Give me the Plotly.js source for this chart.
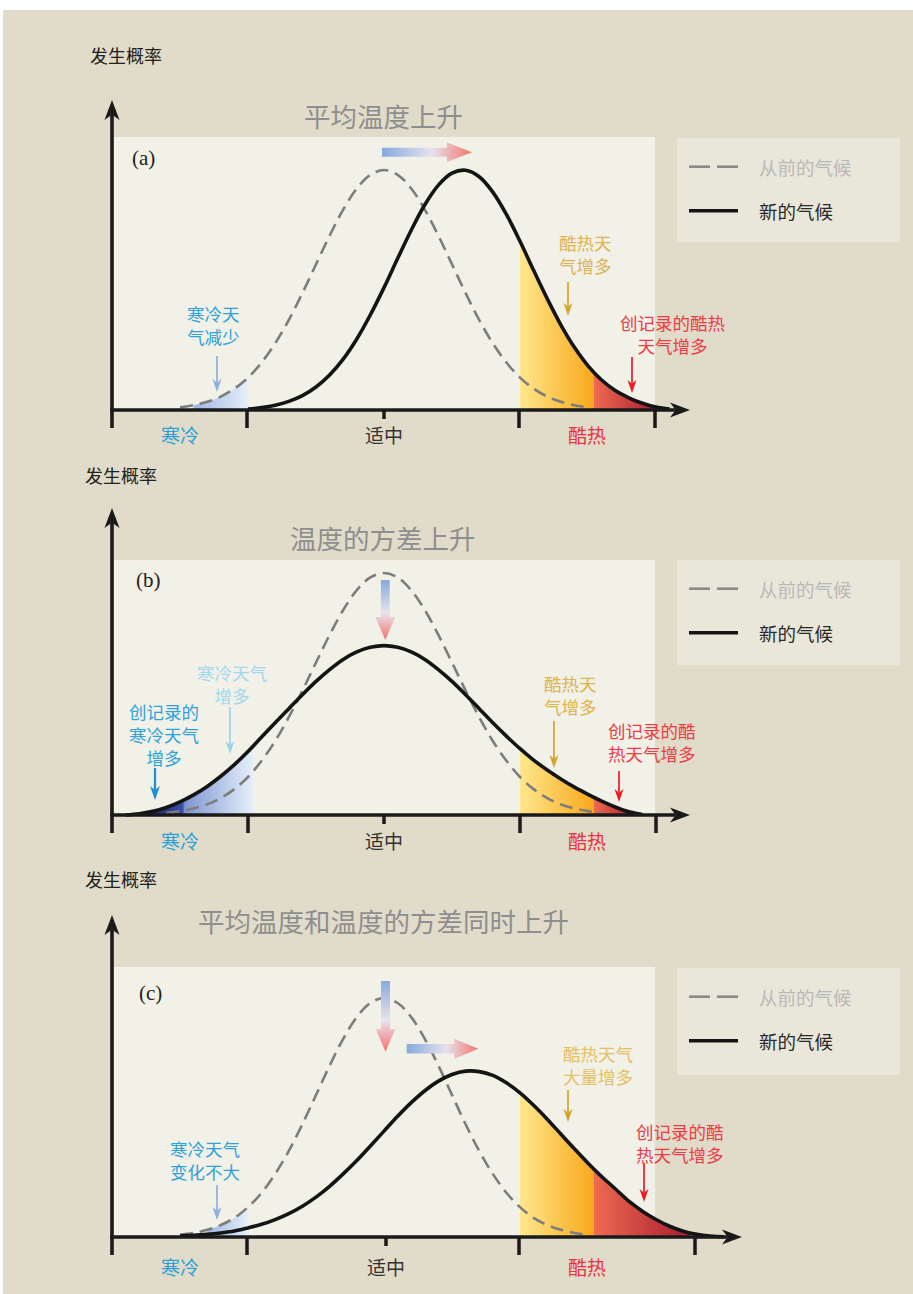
<!DOCTYPE html>
<html>
<head>
<meta charset="utf-8">
<script src="https://cdn.plot.ly/plotly-3.0.1.min.js"></script>
<style>html,body{margin:0;padding:0;background:#fff;}#chart{width:913px;height:1294px;}</style>
</head>
<body>
<div id="chart"></div>
<script>
// ---------------- DATA ----------------
// temperature axis (0 = 适中)
const tempAxis = [-2.0,-1.9,-1.8,-1.7,-1.6,-1.5,-1.4,-1.3,-1.2,-1.1,-1.0,-0.9,-0.8,-0.7,-0.6,-0.5,-0.4,-0.3,-0.2,-0.1,0.0,
  0.1,0.2,0.3,0.4,0.5,0.6,0.7,0.8,0.9,1.0,1.1,1.2,1.3,1.4,1.5,1.6,1.7,1.8,1.9,2.0,2.1,2.2,2.3,2.4,2.5,2.6];

// (a) 平均温度上升
const oldClimateA = [null,null,null,null,null,
  0.011,0.020,0.034,0.056,0.089,0.135,0.198,0.278,0.375,0.487,0.607,0.726,0.835,0.923,0.980,1.000,
  0.980,0.923,0.835,0.726,0.607,0.487,0.375,0.278,0.198,0.135,0.089,0.056,0.034,0.020,0.011,
  null,null,null,null,null,null,null,null,null,null,null];
const newClimateA = [null,null,null,null,null,null,null,null,null,null,
  0.004,0.010,0.020,0.036,0.060,0.096,0.146,0.212,0.296,0.397,0.510,0.631,0.749,0.855,0.937,0.987,0.999,
  0.972,0.908,0.815,0.703,0.582,0.464,0.355,0.261,0.184,0.125,0.081,0.051,0.028,0.012,0.004,
  null,null,null,null,null];

// (b) 温度的方差上升
const oldClimateB = [null,null,null,null,
  0.009,0.016,0.027,0.044,0.070,0.107,0.157,0.224,0.306,0.404,0.514,0.630,0.744,0.847,0.929,0.982,1.000,
  0.982,0.929,0.847,0.744,0.630,0.514,0.404,0.306,0.224,0.157,0.107,0.070,0.044,0.027,0.016,0.009,
  null,null,null,null,null,null,null,null,null,null];
const newClimateB = [null,
  0.000,0.005,0.015,0.031,0.054,0.083,0.118,0.160,0.208,0.262,0.322,0.381,0.439,0.497,0.552,0.601,0.643,0.674,0.693,0.700,
  0.693,0.674,0.643,0.601,0.552,0.497,0.439,0.381,0.326,0.274,0.227,0.186,0.149,0.115,0.085,0.057,0.033,0.013,0.002,
  null,null,null,null,null,null,null];

// (c) 平均温度和温度的方差同时上升
const oldClimateC = [null,null,null,null,null,
  0.009,0.017,0.030,0.050,0.080,0.125,0.185,0.264,0.360,0.472,0.594,0.717,0.829,0.920,0.979,1.000,
  0.979,0.920,0.829,0.717,0.594,0.472,0.360,0.264,0.185,0.125,0.080,0.050,0.030,0.017,0.009,
  null,null,null,null,null,null,null,null,null,null,null];
const newClimateC = [null,null,null,null,null,
  0.005,0.007,0.011,0.017,0.025,0.038,0.053,0.073,0.098,0.129,0.167,0.212,0.264,0.320,0.381,0.443,
  0.505,0.562,0.612,0.652,0.680,0.694,0.692,0.676,0.645,0.603,0.551,0.493,0.431,0.369,0.309,0.253,0.202,0.150,0.108,0.073,
  0.045,0.024,0.011,0.004,0.001,null];

// shaded tails (temperature, probability)
const coldA_x = [-1.4,-1.3,-1.2,-1.1,-1.0];            const coldA_y = [0.020,0.034,0.056,0.089,0.135];
const hotA_x  = [1.0,1.1,1.2,1.3,1.4,1.5,1.54];         const hotA_y  = [0.703,0.582,0.464,0.355,0.261,0.184,0.158];
const recA_x  = [1.54,1.6,1.7,1.8,1.9,2.0];             const recA_y  = [0.158,0.125,0.081,0.051,0.028,0.012];
const coldB_x = [-1.8,-1.7,-1.6,-1.5,-1.4,-1.3,-1.2,-1.1,-1.0,-0.96];
const coldB_y = [0.005,0.015,0.031,0.054,0.083,0.118,0.160,0.208,0.262,0.285];
const hotB_x  = [1.0,1.1,1.2,1.3,1.4,1.5,1.54];         const hotB_y  = [0.274,0.227,0.186,0.149,0.115,0.085,0.074];
const recB_x  = [1.54,1.6,1.7,1.8,1.85];                const recB_y  = [0.074,0.057,0.033,0.013,0.006];
const coldC_x = [-1.3,-1.2,-1.1,-1.0];                  const coldC_y = [0.030,0.050,0.080,0.125];
const hotC_x  = [1.0,1.1,1.2,1.3,1.4,1.5,1.54];         const hotC_y  = [0.603,0.551,0.493,0.431,0.369,0.309,0.285];
const recC_x  = [1.54,1.6,1.7,1.8,1.9,2.0,2.1,2.2,2.25]; const recC_y  = [0.285,0.253,0.202,0.150,0.108,0.073,0.045,0.024,0.017];

// texts
const yAxisLabel = '发生概率';
const panelTitles = ['平均温度上升', '温度的方差上升', '平均温度和温度的方差同时上升'];
const panelTags = ['(a)', '(b)', '(c)'];
const categoryLabels = ['寒冷', '适中', '酷热'];
const legendLabels = ['从前的气候', '新的气候'];
const calloutsA = ['寒冷天<br>气减少', '酷热天<br>气增多', '创记录的酷热<br>天气增多'];
const calloutsB = ['寒冷天气<br>增多', '创记录的<br>寒冷天气<br>增多', '酷热天<br>气增多', '创记录的酷<br>热天气增多'];
const calloutsC = ['寒冷天气<br>变化不大', '酷热天气<br>大量增多', '创记录的酷<br>热天气增多'];

// ---------------- LAYOUT HELPERS ----------------
const W = 913, H = 1294;
const X0 = 384, XU = 136, XMIN = -2.1, XMAX = 2.7, YMIN = -0.1, YMAX = 1.4;
const CJK = '"Noto Sans CJK SC", "Noto Sans", sans-serif';
const SERIF = '"Liberation Serif", "DejaVu Serif", serif';
const px = v => v / W;
const py = v => 1 - v / H;
const tX = v => (v - X0) / XU;

const panels = [
  {ax:'', base:410, u:240, top:100, ext:428, inTop:137, legTop:138, legBot:242, tip:690, ticks:[247,519,655], mid:384,
   titleY:116, labelX:126, labelY:55, tagX:143, tagY:158, catY:435},
  {ax:'2', base:815, u:242, top:508, ext:833, inTop:560, legTop:560, legBot:665, tip:690, ticks:[248,520,656], mid:384,
   titleY:538, labelX:121, labelY:475, tagX:148, tagY:580, catY:840},
  {ax:'3', base:1237, u:239, top:915, ext:1255, inTop:967, legTop:968, legBot:1075, tip:742, ticks:[247,519,695], mid:386,
   titleY:921, labelX:121, labelY:879, tagX:150, tagY:993, catY:1266}
];
const vY = (p, v) => (p.base - v) / p.u;

const C = {
  bg:'#e0dcc9', inner:'#f2f1e7', legend:'#e9e7da', axis:'#1a1a1a', old:'#7d7d7d', title:'#8e8e8e',
  blue:'#2ea2db', lightBlue:'#a4d7f0', gold:'#deb352', gold2:'#e6bf66', red:'#ee3b47',
  arrBlueLight:'#8db1df', arrBlue:'#1a8fd4', arrLightBlue:'#9fd3ef', arrGold:'#d4a32a', arrRed:'#ec1c26'
};
const gradHot = [[0,'#fee78c'],[1,'#f8a91c']];
const gradRec = [[0,'#ef6b52'],[1,'#a71d2e']];
const gradColdPale = [[0,'#9cb7e2'],[1,'#e6effa']];
const gradColdDeep = [[0,'#17125f'],[0.38,'#3b4fa8'],[0.40,'#7f96d2'],[1,'#e6f0fb']];
const gradArrowH = [[0,'#86a9dd'],[0.55,'#e7e2ee'],[1,'#f3766f']];
const gradArrowV = [[0,'#f3726c'],[0.45,'#e8e3ee'],[1,'#86a9dd']];

const traces = [];
function axesOf(p){ return {xaxis:'x'+p.ax, yaxis:'y'+p.ax}; }
function curve(p, y, dashed){
  traces.push(Object.assign({type:'scatter', mode:'lines', x:tempAxis, y:y, hoverinfo:'skip', showlegend:false,
    line: dashed ? {color:C.old, width:2.6, dash:'13px,7px', shape:'spline'} : {color:'#141414', width:3.6, shape:'spline'}
  }, axesOf(p)));
}
function area(p, x, y, scale){
  traces.push(Object.assign({type:'scatter', mode:'lines', x:x, y:y, fill:'tozeroy', hoverinfo:'skip', showlegend:false,
    line:{width:0, shape:'spline', color:'rgba(0,0,0,0)'}, fillgradient:{type:'horizontal', colorscale:scale}}, axesOf(p)));
}
function arrowH(p, x0, x1, yc, sh, hl, hh){
  const xs=[x0,x1-hl,x1-hl,x1,x1-hl,x1-hl,x0,x0], ys=[yc-sh,yc-sh,yc-hh,yc,yc+hh,yc+sh,yc+sh,yc-sh];
  traces.push(Object.assign({type:'scatter', mode:'lines', x:xs.map(tX), y:ys.map(v=>vY(p,v)), fill:'toself', hoverinfo:'skip',
    showlegend:false, line:{width:0, color:'rgba(0,0,0,0)'}, fillgradient:{type:'horizontal', colorscale:gradArrowH}}, axesOf(p)));
}
function arrowV(p, xc, y0, y1, sw, hl, hw){
  const xs=[xc-sw,xc+sw,xc+sw,xc+hw,xc,xc-hw,xc-sw,xc-sw], ys=[y0,y0,y1-hl,y1-hl,y1,y1-hl,y1-hl,y0];
  traces.push(Object.assign({type:'scatter', mode:'lines', x:xs.map(tX), y:ys.map(v=>vY(p,v)), fill:'toself', hoverinfo:'skip',
    showlegend:false, line:{width:0, color:'rgba(0,0,0,0)'}, fillgradient:{type:'vertical', colorscale:gradArrowV}}, axesOf(p)));
}

// panel (a)
area(panels[0], coldA_x, coldA_y, gradColdPale);
area(panels[0], hotA_x, hotA_y, gradHot);
area(panels[0], recA_x, recA_y, gradRec);
curve(panels[0], oldClimateA, true);
curve(panels[0], newClimateA, false);
arrowH(panels[0], 382, 472, 152.2, 4.5, 25, 9.7);
// panel (b)
area(panels[1], coldB_x, coldB_y, gradColdDeep);
area(panels[1], hotB_x, hotB_y, gradHot);
area(panels[1], recB_x, recB_y, gradRec);
curve(panels[1], oldClimateB, true);
curve(panels[1], newClimateB, false);
arrowV(panels[1], 385.3, 580, 640, 4.4, 23, 10);
// panel (c)
area(panels[2], coldC_x, coldC_y, gradColdPale);
area(panels[2], hotC_x, hotC_y, gradHot);
area(panels[2], recC_x, recC_y, gradRec);
curve(panels[2], oldClimateC, true);
curve(panels[2], newClimateC, false);
arrowV(panels[2], 385.5, 981, 1051.7, 4.5, 22.4, 9.7);
arrowH(panels[2], 406.7, 478.3, 1048.7, 4.7, 24, 10);

// ---------------- SHAPES & ANNOTATIONS ----------------
const shapes = [];
const annotations = [];
function rect(x0,y0,x1,y1,color,layer){
  shapes.push({type:'rect', xref:'paper', yref:'paper', x0:px(x0), x1:px(x1), y0:py(y1), y1:py(y0),
    fillcolor:color, line:{width:0}, layer:layer||'below'});
}
function seg(x0,y0,x1,y1,color,width){
  shapes.push({type:'line', xref:'paper', yref:'paper', x0:px(x0), x1:px(x1), y0:py(y0), y1:py(y1),
    line:{color:color, width:width}, layer:'above'});
}
function text(x,y,t,size,color,opts){
  annotations.push(Object.assign({xref:'paper', yref:'paper', x:px(x), y:py(y), text:t, showarrow:false,
    xanchor:'center', yanchor:'middle', align:'center', font:{family:CJK, size:size, color:color}}, opts||{}));
}
// arrow drawn as a line plus a dart-shaped head (screen pixels in, paper coords out)
function pointer(xTip, yTip, xTail, yTail, color, width, L, w){
  const len = Math.hypot(xTip - xTail, yTip - yTail);
  const dx = (xTip - xTail) / len, dy = (yTip - yTail) / len;
  const nx = -dy, ny = dx;
  const bx = xTip - L * dx, by = yTip - L * dy;
  const mx = xTip - 0.72 * L * dx, my = yTip - 0.72 * L * dy;
  seg(xTail, yTail, mx, my, color, width);
  const pts = [[xTip, yTip], [bx + nx * w / 2, by + ny * w / 2], [mx, my], [bx - nx * w / 2, by - ny * w / 2]];
  const path = 'M' + pts.map(q => px(q[0]).toFixed(5) + ',' + py(q[1]).toFixed(5)).join(' L') + ' Z';
  shapes.push({type:'path', xref:'paper', yref:'paper', path:path, fillcolor:color, line:{width:0}, layer:'above'});
}

rect(3, 10, 913, 1294, C.bg);

panels.forEach((p, i) => {
  rect(112, p.inTop, 655, p.base, C.inner);
  rect(677, p.legTop, 900, p.legBot, C.legend);
  // legend samples
  const l1 = p.legTop + 28.7, l2 = p.legTop + 72.7;
  seg(689, l1, 710, l1, '#8a8a8a', 2.6);
  seg(717, l1, 738, l1, '#8a8a8a', 2.6);
  seg(689, l2, 738, l2, '#141414', 3.6);
  text(757, l1, legendLabels[0], 18.5, '#b9b9b9', {xanchor:'left'});
  text(757, l2, legendLabels[1], 18.5, '#2a2a2a', {xanchor:'left'});
  // axes with arrow heads
  pointer(112, p.top, 112, p.ext, C.axis, 3.6, 20, 15);
  pointer(p.tip, p.base, 110.2, p.base, C.axis, 3.6, 20, 15);
  p.ticks.forEach(t => seg(t, p.base, t, p.base + 18, C.axis, 3.5));
  seg(p.mid, p.base, p.mid, p.base + 9, C.axis, 3.5);
  // texts
  text(p.labelX, p.labelY, yAxisLabel, 18, '#222222');
  text(383, p.titleY, panelTitles[i], 26.5, C.title);
  text(p.tagX, p.tagY, panelTags[i], 21, '#222222', {font:{family:SERIF, size:21, color:'#222222'}});
  text(180, p.catY, categoryLabels[0], 19, '#2b9fd9');
  text(p.mid, p.catY, categoryLabels[1], 19, '#333333');
  text(587, p.catY, categoryLabels[2], 19, '#e8343f');
});

// callouts (a)
text(213, 325, calloutsA[0], 17.5, C.blue);
pointer(217, 392, 217, 356, C.arrBlueLight, 1.7, 13, 9);
text(585, 254, calloutsA[1], 17.5, C.gold);
pointer(568, 316, 568, 282, C.arrGold, 1.7, 13, 9);
text(672, 334, calloutsA[2], 17.5, C.red);
pointer(632, 393, 632, 357, C.arrRed, 1.7, 13, 9);
// callouts (b)
text(232, 684, calloutsB[0], 17.5, C.lightBlue);
pointer(230, 754, 230, 707, C.arrLightBlue, 1.7, 13, 9);
text(164, 734, calloutsB[1], 17.5, C.blue);
pointer(155, 800, 155, 768, C.arrBlue, 2.2, 14, 10);
text(570, 695, calloutsB[2], 17.5, C.gold);
pointer(554, 768, 554, 721, C.arrGold, 1.7, 13, 9);
text(652, 742, calloutsB[3], 17.5, C.red);
pointer(619, 802, 619, 771, C.arrRed, 1.7, 13, 9);
// callouts (c)
text(205, 1160, calloutsC[0], 17.5, C.blue);
pointer(217, 1220, 217, 1185, C.arrBlueLight, 1.7, 13, 9);
text(598, 1065, calloutsC[1], 17.5, C.gold2);
pointer(568, 1122, 568, 1090, C.arrGold, 1.7, 13, 9);
text(680, 1143, calloutsC[2], 17.5, C.red);
pointer(644, 1202, 644, 1163, C.arrRed, 1.7, 13, 9);

// ---------------- AXES (hidden; used for scaling only) ----------------
const layout = {
  width: W, height: H, margin:{l:0, r:0, t:0, b:0}, paper_bgcolor:'#ffffff', plot_bgcolor:'rgba(0,0,0,0)',
  showlegend:false, shapes: shapes, annotations: annotations, hovermode:false
};
panels.forEach(p => {
  const xd = [px(X0 + XU * XMIN), px(X0 + XU * XMAX)];
  const yd = [py(p.base - p.u * YMIN), py(p.base - p.u * YMAX)];
  layout['xaxis' + p.ax] = {domain: xd, range:[XMIN, XMAX], visible:false, fixedrange:true, anchor:'y' + p.ax};
  layout['yaxis' + p.ax] = {domain: yd, range:[YMIN, YMAX], visible:false, fixedrange:true, anchor:'x' + p.ax};
});

Plotly.newPlot('chart', traces, layout, {staticPlot:true, displayModeBar:false});
</script>
</body>
</html>
